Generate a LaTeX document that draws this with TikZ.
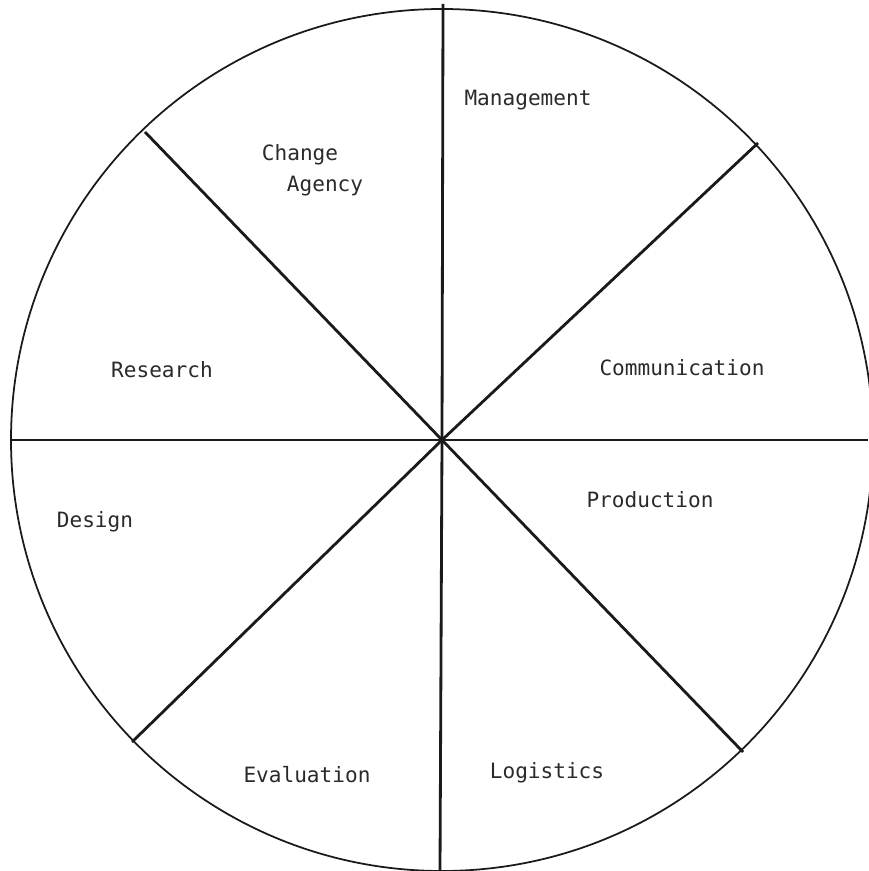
\documentclass[tikz,border=0pt]{standalone}
\usepackage{fontspec}
\setmonofont{DejaVu Sans Mono}
\usetikzlibrary{calc}
\definecolor{inkLine}{HTML}{1A1A1A}
\definecolor{inkText}{HTML}{2A2A2A}
\tikzset{
  rim/.style={draw=inkLine, line width=1.0pt},
  spoke/.style={draw=inkLine, line width=1.6pt},
  seclabel/.style={font=\fontsize{12}{14}\selectfont\ttfamily, text=inkText, inner sep=0pt},
}
\begin{document}
\begin{tikzpicture}[x=0.02cm, y=-0.02cm]
\useasboundingbox (0,0) rectangle (868,871);
% hub and rim ends of the spokes
\coordinate (c) at (442,440);
\coordinate (pN)  at (443,4);
\coordinate (pS)  at (440,870);
\coordinate (pW)  at (11,440);
\coordinate (pE)  at (868,440);
\coordinate (pNE) at (758,143);
\coordinate (pNW) at (145,132);
\coordinate (pSW) at (132,742);
\coordinate (pSE) at (743,752);
\draw[rim] (c) circle [radius=431];
\foreach \p in {pN,pS,pW,pE,pNE,pNW,pSW,pSE}
  \draw[spoke] (c) -- (\p);
% sector names
\node[seclabel] (mgmt)  at (528,100) {Management};
\node[seclabel] (chg)   at (300,155) {Change};
\node[seclabel] (agcy)  at (325,186) {Agency};
\node[seclabel] (comm)  at (682,368) {Communication};
\node[seclabel] (res)   at (162,370) {Research};
\node[seclabel] (des)   at (95,522)  {Design};
\node[seclabel] (prod)  at (650,500) {Production};
\node[seclabel] (eval)  at (307,775) {Evaluation};
\node[seclabel] (logi)  at (547,773) {Logistics};
\end{tikzpicture}
\end{document}
